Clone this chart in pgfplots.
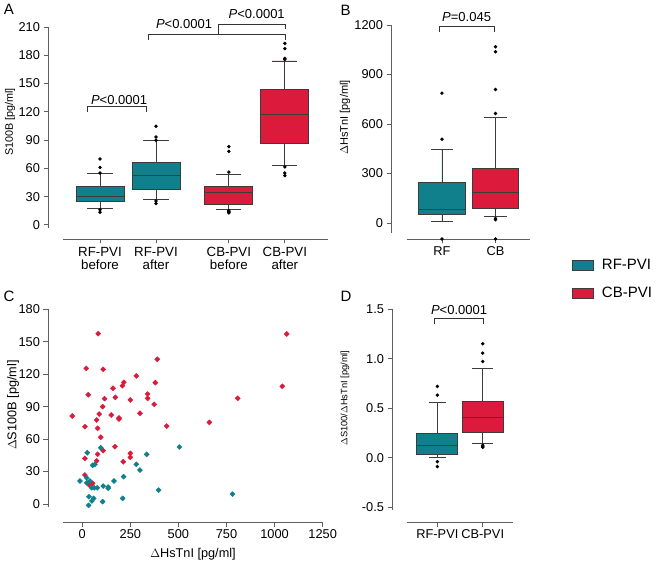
\documentclass[border=0pt]{standalone}
\usepackage{fontspec}
\setmainfont{Liberation Sans}
\usepackage{pgfplots}
\pgfplotsset{compat=1.18}
\usepgfplotslibrary{statistics}
\definecolor{rfc}{RGB}{16,128,140}
\definecolor{cbc}{RGB}{220,26,60}
\definecolor{edge}{RGB}{60,60,60}
\definecolor{axc}{RGB}{95,95,95}
\tikzset{
 axln/.style={axc, line width=0.8pt},
 brk/.style={black!80, line width=0.6pt},
 ptxt/.style={font=\fontsize{13}{13}\selectfont, anchor=base, inner sep=0pt},
}
\pgfplotsset{
 prism/.style={
  scale only axis, clip=false,
  axis lines*=left,
  axis line style={draw=none},
  tick align=outside,
  major tick length=4.5pt,
  tick style={axc, line width=0.8pt},
  ticklabel style={font=\fontsize{12.8}{13}\selectfont},
  /pgf/number format/assume math mode=true,
  /pgf/number format/set thousands separator={},
  every axis y label/.style={rotate=90, anchor=center, font=\fontsize{11}{11}\selectfont},
  every axis x label/.style={anchor=center, font=\fontsize{11}{11}\selectfont},
  boxplot/draw direction=y,
 },
 bx/.style={solid, draw=edge, line width=0.8pt, mark=*, mark size=1.3pt, mark options={fill=black, draw=black}},
}
\begin{document}
\begin{tikzpicture}
\useasboundingbox (0,0) rectangle (660pt,564pt);
% ---------------- Panel A
\begin{axis}[prism, at={(48pt,325pt)}, anchor=south west, width=280pt, height=212pt,
 xmin=0.0714, xmax=5.071, ymin=-15, ymax=210,
 ytick={0,30,...,210}, xtick={1,2,3.3,4.3},
 xticklabels={{RF-PVI\\before},{RF-PVI\\after},{CB-PVI\\before},{CB-PVI\\after}},
 xticklabel style={align=center, font=\fontsize{13.3}{13}\selectfont},
 ylabel={S100B [pg/ml]}, ylabel style={at={(axis description cs:-0.1357,0.552)}, font=\fontsize{10.8}{11}\selectfont}]
\draw[axln] (axis cs:0.339,-15) -- (axis cs:5.071,-15);
\draw[axln] (axis cs:0.0714,-3) -- (axis cs:0.0714,210);
\addplot[bx, fill=rfc, boxplot prepared={draw position=1, lower whisker=17.7, lower quartile=24.7, median=30.4, upper quartile=40.3, upper whisker=54.8, box extend=0.857, whisker extend=0.45}] coordinates {(0,70) (0,61) (0,55) (0,13.4) (0,16)};
\addplot[bx, fill=rfc, boxplot prepared={draw position=2, lower whisker=26.5, lower quartile=37.5, median=52, upper quartile=66.5, upper whisker=89.4, box extend=0.857, whisker extend=0.45}] coordinates {(0,104.6) (0,93.3) (0,89.8) (0,25.4) (0,22.6)};
\addplot[bx, fill=cbc, boxplot prepared={draw position=3.3, lower whisker=16.3, lower quartile=22, median=34.3, upper quartile=41, upper whisker=53.7, box extend=0.857, whisker extend=0.45}] coordinates {(0,83) (0,78) (0,56) (0,15) (0,14) (0,13.5) (0,12.7)};
\addplot[bx, fill=cbc, boxplot prepared={draw position=4.3, lower whisker=63, lower quartile=86, median=117.7, upper quartile=144, upper whisker=174, box extend=0.857, whisker extend=0.45}] coordinates {(0,192.6) (0,187) (0,176.7) (0,175.5) (0,61.5) (0,55) (0,52.3)};
\draw[brk] (axis cs:0.78,119.5) -- (axis cs:0.78,126) -- (axis cs:1.83,126) -- (axis cs:1.83,119.5);
\node[ptxt] at (axis cs:1.34,128) {\textit{P}<0.0001};
\draw[brk] (axis cs:1.8625,196) -- (axis cs:1.8625,201.9) -- (axis cs:4.304,201.9) -- (axis cs:4.304,196);
\node[ptxt] at (axis cs:2.5,208.6) {\textit{P}<0.0001};
\draw[brk] (axis cs:3.1125,201.9) -- (axis cs:3.1125,213) -- (axis cs:4.304,213) -- (axis cs:4.304,207.5);
\node[ptxt] at (axis cs:3.798,219) {\textit{P}<0.0001};
\end{axis}
% ---------------- Panel B
\begin{axis}[prism, at={(391pt,325pt)}, anchor=south west, width=139pt, height=214pt,
 xmin=0.047, xmax=2.645, ymin=-97, ymax=1200,
 ytick={0,300,...,1200}, xtick={1,2}, xticklabels={RF,CB},
 ylabel={$\Delta$HsTnI [pg/ml]}, ylabel style={at={(axis description cs:-0.331,0.568)}, font=\fontsize{11}{11}\selectfont},
 legend style={at={(axis description cs:1.302,-0.084)}, anchor=north west, draw=none, fill=none,
   font=\fontsize{15}{15}\selectfont, inner sep=0pt, row sep=12pt, legend cell align=left,
   /tikz/every odd column/.append style={column sep=6pt}}]
\draw[axln] (axis cs:0.341,-97) -- (axis cs:2.645,-97);
\draw[axln] (axis cs:0.047,-60) -- (axis cs:0.047,1200);
\addplot[bx, fill=rfc, forget plot, boxplot prepared={draw position=1, lower whisker=10, lower quartile=51, median=85, upper quartile=249, upper whisker=443, box extend=0.873, whisker extend=0.42}] coordinates {(0,787) (0,508) (0,-97)};
\addplot[bx, fill=cbc, forget plot, boxplot prepared={draw position=2, lower whisker=38, lower quartile=87, median=184, upper quartile=332, upper whisker=641, box extend=0.873, whisker extend=0.42}] coordinates {(0,1068) (0,1038) (0,809) (0,664) (0,28) (0,20) (0,-97)};
\draw[brk] (axis cs:0.95,1159) -- (axis cs:0.95,1194) -- (axis cs:1.972,1194) -- (axis cs:1.972,1159);
\node[ptxt] at (axis cs:1.46,1220) {\textit{P}=0.045};
\addlegendimage{legend image code/.code={\draw[fill=rfc,draw=edge,line width=0.8pt] (0pt,-5pt) rectangle (21pt,5pt);}}
\addlegendentry{RF-PVI}
\addlegendimage{legend image code/.code={\draw[fill=cbc,draw=edge,line width=0.8pt] (0pt,-5pt) rectangle (21pt,5pt);}}
\addlegendentry{CB-PVI}
\end{axis}
% ---------------- Panel C
\begin{axis}[prism, at={(48pt,42pt)}, anchor=south west, width=274.7pt, height=212.7pt,
 xmin=-178, xmax=1250, ymin=-16.6, ymax=180,
 xtick={0,250,...,1250}, ytick={0,30,...,180},
 xlabel={$\Delta$HsTnI [pg/ml]}, xlabel style={at={(axis description cs:0.528,-0.150)}, font=\fontsize{12.7}{13}\selectfont},
 ylabel={$\Delta$S100B [pg/ml]}, ylabel style={at={(axis description cs:-0.1274,0.55)}, font=\fontsize{12.7}{13}\selectfont}]
\draw[axln] (axis cs:-100,-16.6) -- (axis cs:1250,-16.6);
\draw[axln] (axis cs:-178,-3) -- (axis cs:-178,180);
\addplot[only marks, mark=square*, mark size=1.8pt, mark options={fill=cbc, draw=cbc, rotate=45}] coordinates {
(-52,81.4) (14,71.5) (106,90) (75,77.7) (88,83.2) (151,82.3) (191,79.5) (191,78.6) (250,96.2) (300,83.9)
(374,92.2) (439,72.1) (80,70) (96,61.7) (170,53) (109,49.3) (80,46) (14,42.2) (75,40) (213,39.1)
(250,46.9) (250,43.2) (14,26.8) (36,17.6) (54,19.1) (1063,157.2) (390,133.8) (380,112.2) (340,101.7) (340,97.7)
(661,75.5) (808,97.7) (1040,108.8) (83,157.5) (21,125.4) (109,124.5) (281,118.4) (216,112.5) (209,109.4) (160,107)
(31,101) (116,97.4) (172,98.6)};
\addplot[only marks, mark=square*, mark size=1.8pt, mark options={fill=rfc, draw=rfc, rotate=45}] coordinates {
(96,52) (26,47.4) (505,52.7) (335,45.9) (281,36.7) (300,31.4) (66,36.7) (54,35.8) (-12,21.3) (23,24.3)
(40,21.3) (23,19.7) (165,21.3) (215,25.3) (49,15) (62,15) (78,15) (109,16.6) (135,15.7) (135,14.5)
(397,12.9) (35,6.8) (59,5.2) (50,2.8) (106,2.2) (210,5.2) (33,-1.2) (781,9.2)};
\end{axis}
% ---------------- Panel D
\begin{axis}[prism, at={(392pt,42pt)}, anchor=south west, width=121.3pt, height=212.7pt,
 xmin=0, xmax=2.674, ymin=-0.65, ymax=1.5,
 ytick={-0.5,0,0.5,1,1.5},
 yticklabel style={/pgf/number format/fixed, /pgf/number format/precision=1, /pgf/number format/fixed zerofill},
 xtick={1,2}, xticklabels={RF-PVI,CB-PVI},
 ylabel={$\Delta$S100/$\Delta$HsTnI [pg/ml]}, ylabel style={at={(axis description cs:-0.3875,0.583)}, font=\fontsize{9.3}{10}\selectfont}]
\draw[axln] (axis cs:0.326,-0.65) -- (axis cs:2.674,-0.65);
\draw[axln] (axis cs:0,-0.53) -- (axis cs:0,1.5);
\addplot[bx, fill=rfc, boxplot prepared={draw position=1, lower whisker=0, lower quartile=0.037, median=0.128, upper quartile=0.247, upper whisker=0.557, box extend=0.903, whisker extend=0.37}] coordinates {(0,0.72) (0,0.632) (0,-0.04) (0,-0.09)};
\addplot[bx, fill=cbc, boxplot prepared={draw position=2, lower whisker=0.142, lower quartile=0.257, median=0.405, upper quartile=0.571, upper whisker=0.902, box extend=0.903, whisker extend=0.46}] coordinates {(0,1.152) (0,1.057) (0,0.973) (0,0.125) (0,0.11) (0,0.105)};
\draw[brk] (axis cs:0.934,1.35) -- (axis cs:0.934,1.41) -- (axis cs:2.013,1.41) -- (axis cs:2.013,1.35);
\node[ptxt] at (axis cs:1.478,1.444) {\textit{P}<0.0001};
\end{axis}
% panel letters
\node[font=\fontsize{15}{15}\selectfont] at (9pt,555pt) {A};
\node[font=\fontsize{15}{15}\selectfont] at (345.5pt,554pt) {B};
\node[font=\fontsize{15}{15}\selectfont] at (9pt,268pt) {C};
\node[font=\fontsize{15}{15}\selectfont] at (346pt,268pt) {D};
\end{tikzpicture}
\end{document}
